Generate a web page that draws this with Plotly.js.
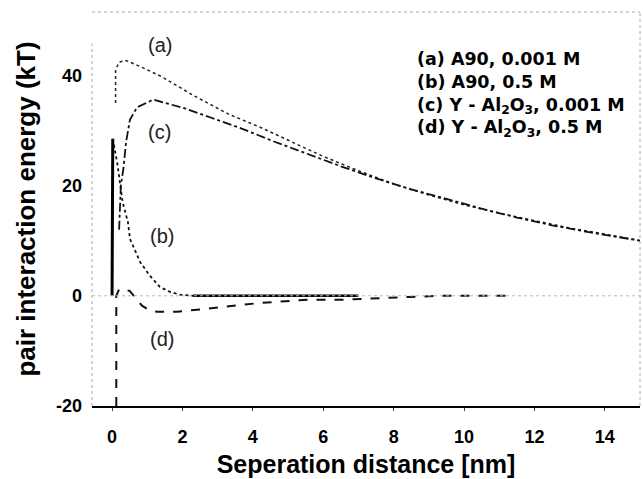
<!DOCTYPE html>
<html>
<head>
<meta charset="utf-8">
<script src="https://cdn.plot.ly/plotly-3.0.1.min.js"></script>
<style>html,body{margin:0;padding:0;background:#fff;}#chart{width:643px;height:479px;}</style>
</head>
<body>
<div id="chart"></div>
<script>
// (a) A90, 0.001 M
const aX = [0.1, 0.1, 0.2, 0.4, 0.8, 1.4, 2.3, 3.3, 4.2, 5, 6, 7, 8, 9, 10, 11, 12, 13, 14, 15];
const aY = [35, 41, 42.4, 42.7, 41.6, 39.8, 36.4, 33, 30.6, 28.2, 25.3, 22.7, 20.3, 18.3, 16.5, 15, 13.6, 12.3, 11.2, 10];
// (b) A90, 0.5 M
const bX = [0, 0.02, 0.15, 0.3, 0.45, 0.51, 0.8, 1.08, 1.36, 1.65, 1.93, 2.3, 7.0];
const bY = [0, 28.5, 24, 17, 13.4, 10.3, 6.1, 3.6, 1.6, 0.7, 0.2, 0, 0];
// (c) Y - Al2O3, 0.001 M
const cX = [0.2, 0.25, 0.32, 0.4, 0.51, 0.71, 1.17, 2.07, 2.78, 3.7, 4.6, 5.5, 6.5, 7.5, 8.5, 9.5, 10.5, 11.5, 12.5, 13.5, 14.5, 15];
const cY = [12, 20, 23, 28, 32, 34.2, 35.6, 34, 32.4, 30.3, 28, 25.8, 23.5, 21.3, 19.3, 17.6, 15.8, 14.2, 12.8, 11.6, 10.5, 10];
// (d) Y - Al2O3, 0.5 M
const dX = [0.12, 0.12, 0.2, 0.5, 0.85, 1.08, 1.3, 1.85, 2.6, 3.45, 4.2, 5.6, 6.6, 8.5, 9.4, 11.2];
const dY = [-20, 0, 1.2, 0.9, -1.8, -2.7, -2.9, -2.9, -2.4, -1.8, -1.3, -0.7, -0.7, -0.2, 0, 0];

const curveLabels = ['(a)', '(c)', '(b)', '(d)'];
const labelX = [1.36, 1.36, 1.42, 1.42];
const labelY = [45.6, 29.8, 10.8, -7.8];
const legendLines = ['(a) A90, 0.001 M', '(b) A90, 0.5 M', '(c) Y - Al<sub>2</sub>O<sub>3</sub>, 0.001 M', '(d) Y - Al<sub>2</sub>O<sub>3</sub>, 0.5 M'];

const xTicks = [0, 2, 4, 6, 8, 10, 12, 14];
const yTicks = [-20, 0, 20, 40];

const traces = [
  {x: aX, y: aY, mode: 'lines', line: {color: '#222', width: 1.5, dash: 'dot'}, name: 'a'},
  {x: cX, y: cY, mode: 'lines', line: {color: '#111', width: 1.8, dash: 'dashdot'}, name: 'c'},
  {x: bX.slice(0, 2), y: bY.slice(0, 2), mode: 'lines', line: {color: '#000', width: 3}, name: 'b1'},
  {x: bX.slice(1, 12), y: bY.slice(1, 12), mode: 'lines', line: {color: '#111', width: 1.8, dash: 'dot'}, name: 'b2'},
  {x: bX.slice(11), y: bY.slice(11), mode: 'lines', line: {color: '#000', width: 2.5}, name: 'b3'},
  {x: dX, y: dY, mode: 'lines', line: {color: '#111', width: 2, dash: 'dash'}, name: 'd'}
];

const annotations = curveLabels.map((t, i) => ({
  x: labelX[i], y: labelY[i], xref: 'x', yref: 'y', text: t, showarrow: false,
  font: {family: 'Liberation Sans, Arial, sans-serif', size: 20, color: '#222'}
}));
annotations.push({
  x: 0.59, y: 0.91, xref: 'paper', yref: 'paper', xanchor: 'left', yanchor: 'top', align: 'left',
  text: legendLines.join('<br>'), showarrow: false,
  font: {family: 'DejaVu Sans, sans-serif', size: 17.5, color: '#000', weight: 'bold'}
});

const dotted = {color: '#aaa', width: 1, dash: 'dot'};
const shapes = [
  {type: 'line', xref: 'paper', yref: 'paper', x0: 0, x1: 1, y0: 1, y1: 1, line: dotted},
  {type: 'line', xref: 'paper', yref: 'paper', x0: 1, x1: 1, y0: 0, y1: 1, line: dotted},
  {type: 'line', xref: 'paper', yref: 'paper', x0: 0, x1: 0, y0: 0, y1: 0.92, line: dotted},
  {type: 'line', xref: 'paper', yref: 'y', x0: 0, x1: 1, y0: 0, y1: 0, line: {color: '#bbb', width: 1, dash: 'dot'}}
];

const layout = {
  width: 643, height: 479,
  margin: {l: 92, r: 3, t: 12, b: 73},
  paper_bgcolor: '#fff', plot_bgcolor: '#fff',
  showlegend: false,
  xaxis: {
    range: [-0.57, 15.0], tickvals: xTicks, ticktext: xTicks.map(String),
    showgrid: false, zeroline: false, showline: true, linecolor: '#000', linewidth: 2,
    ticks: 'outside', ticklen: 3, tickcolor: '#444', ticklabelstandoff: 10,
    tickfont: {family: 'Liberation Sans, Arial, sans-serif', size: 18, color: '#000', weight: 'bold'},
    title: {text: 'Seperation distance [nm]', standoff: 10,
      font: {family: 'Liberation Sans, Arial, sans-serif', size: 25, color: '#000', weight: 'bold'}}
  },
  yaxis: {
    range: [-20, 51.5], tickvals: yTicks, ticktext: yTicks.map(String),
    showgrid: false, zeroline: false, showline: false,
    ticks: '', ticklabelstandoff: 9,
    tickfont: {family: 'Liberation Sans, Arial, sans-serif', size: 18, color: '#000', weight: 'bold'},
    title: {text: 'pair interaction energy (kT)', standoff: 12,
      font: {family: 'Liberation Sans, Arial, sans-serif', size: 26, color: '#000', weight: 'bold'}}
  },
  annotations: annotations,
  shapes: shapes
};

Plotly.newPlot('chart', traces, layout, {displayModeBar: false, staticPlot: true});
</script>
</body>
</html>
